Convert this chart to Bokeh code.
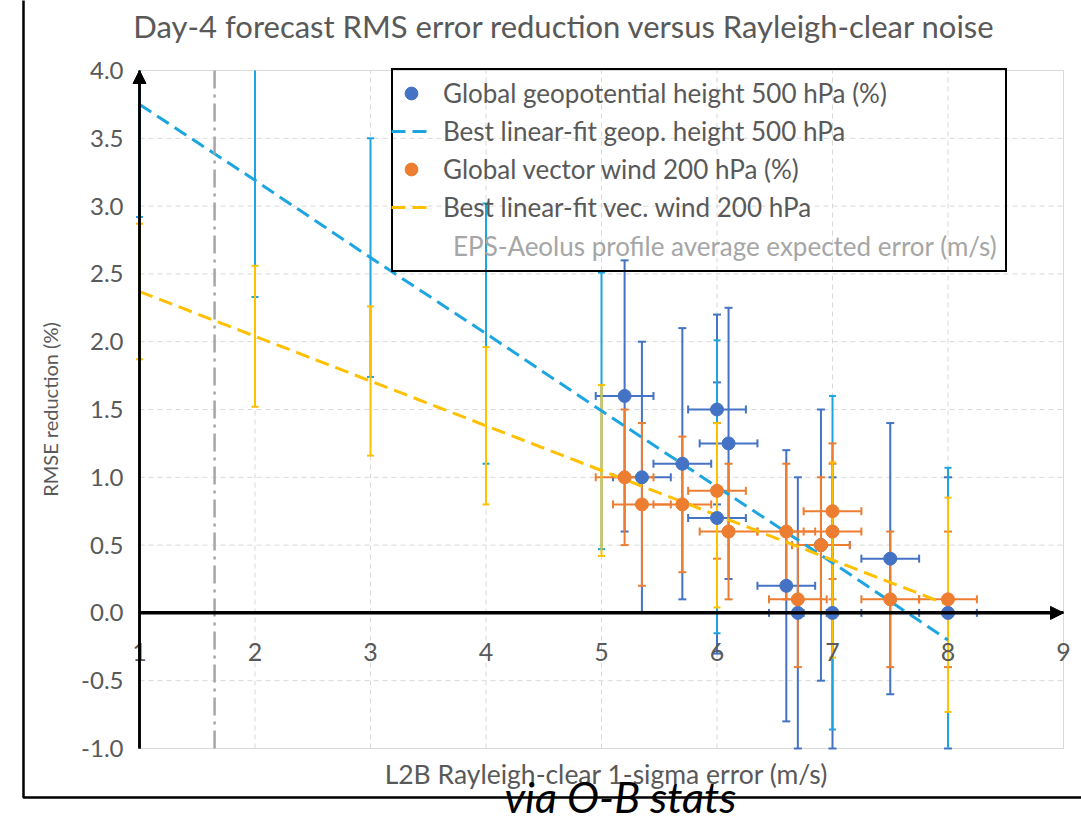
import numpy as np
from bokeh.plotting import figure
from bokeh.models import (ColumnDataSource, Range1d, FixedTicker, NumeralTickFormatter,
                          Arrow, NormalHead, Label, Legend, LegendItem, BoxAnnotation)
from bokeh.embed import file_html
from bokeh.resources import INLINE

# ---- data -------------------------------------------------------------
# Global geopotential height 500 hPa (%) experiments
geo_x = [5.2, 5.35, 5.7, 6.0, 6.0, 6.1, 6.6, 6.7, 6.9, 7.0, 7.5, 8.0]
geo_y = [1.6, 1.0, 1.1, 1.5, 0.7, 1.25, 0.2, 0.0, 0.5, 0.0, 0.4, 0.0]
geo_yerr = [1.0, 1.0, 1.0, 0.7, 1.0, 1.0, 1.0, 1.0, 1.0, 1.0, 1.0, 1.0]
geo_xerr = [0.25] * 12

# Global vector wind 200 hPa (%) experiments
wind_x = [5.2, 5.35, 5.7, 6.0, 6.1, 6.6, 6.7, 6.9, 7.0, 7.0, 7.5, 8.0]
wind_y = [1.0, 0.8, 0.8, 0.9, 0.6, 0.6, 0.1, 0.5, 0.75, 0.6, 0.1, 0.1]
wind_yerr = [0.5, 0.6, 0.5, 0.5, 0.5, 0.5, 0.5, 0.5, 0.5, 0.5, 0.5, 0.5]
wind_xerr = [0.25] * 12

# Best linear fits with their uncertainty bands
fit_x = [1, 2, 3, 4, 5, 6, 7, 8]
geo_fit_y = [3.75, 3.19, 2.62, 2.06, 1.49, 0.93, 0.37, -0.20]
geo_fit_err = [0.83, 0.86, 0.88, 0.96, 1.02, 1.08, 1.23, 1.27]
wind_fit_y = [2.37, 2.04, 1.71, 1.38, 1.05, 0.72, 0.39, 0.06]
wind_fit_err = [0.50, 0.52, 0.55, 0.58, 0.63, 0.68, 0.72, 0.79]

# EPS-Aeolus profile average expected error (m/s)
eps_error = 1.65

x_ticks = [1, 2, 3, 4, 5, 6, 7, 8, 9]
y_ticks = [-1.0, -0.5, 0.0, 0.5, 1.0, 1.5, 2.0, 2.5, 3.0, 3.5, 4.0]
x_lo, x_hi = 1, 9
y_lo, y_hi = -1.0, 4.0

# ---- page geometry (canvas pixels) ---------------------------------------
W, H = 1081, 822
AREA_L, AREA_R, AREA_T, AREA_B = 139, 1063, 70, 748   # plot area inside the canvas
SX = (AREA_R - AREA_L) / (x_hi - x_lo)
SY = (AREA_B - AREA_T) / (y_hi - y_lo)

# ---- styling ----------------------------------------------------------
FONT = "Lato"
GREY_TXT = "#595959"
DARK_BLUE = "#4472C4"
ORANGE = "#ED7D31"
LIGHT_BLUE = "#1DA5E0"
YELLOW = "#FFC000"
GRID = "#D9D9D9"
FIT_DASH = "14 7"

# the frame covers the whole canvas; the plot area is a sub-region of it
p = figure(width=W, height=H, output_backend="svg", toolbar_location=None,
           x_range=Range1d(x_lo - AREA_L / SX, x_hi + (W - AREA_R) / SX),
           y_range=Range1d(y_lo - (H - AREA_B) / SY, y_hi + AREA_T / SY),
           min_border=0, background_fill_color="white",
           border_fill_color="white", outline_line_color=None)
p.xgrid.visible = False
p.ygrid.visible = False

# grid lines and plot-area border
p.segment(x0=x_ticks, y0=[y_lo] * len(x_ticks), x1=x_ticks, y1=[y_hi] * len(x_ticks),
          line_color=GRID, line_width=1, line_dash="5 4")
p.segment(x0=[x_lo] * len(y_ticks), y0=y_ticks, x1=[x_hi] * len(y_ticks), y1=y_ticks,
          line_color=GRID, line_width=1, line_dash="5 4")
p.quad(left=[x_lo], right=[x_hi], bottom=[y_lo], top=[y_hi],
       fill_alpha=0, line_color=GRID, line_width=1)

# axes crossing at the origin of the plot area
xa = p.xaxis[0]
xa.fixed_location = 0
xa.bounds = (x_lo, x_hi)
xa.ticker = FixedTicker(ticks=x_ticks)
xa.axis_line_color = "black"
xa.axis_line_width = 3
xa.major_tick_line_color = None
xa.minor_tick_line_color = None
xa.major_label_standoff = 24
xa.major_label_text_font = FONT
xa.major_label_text_font_size = "25px"
xa.major_label_text_color = GREY_TXT

ya = p.yaxis[0]
ya.fixed_location = x_lo
ya.bounds = (y_lo, y_hi)
ya.ticker = FixedTicker(ticks=y_ticks)
ya.formatter = NumeralTickFormatter(format="0.0")
ya.axis_line_color = "black"
ya.axis_line_width = 2.5
ya.major_tick_line_color = None
ya.minor_tick_line_color = None
ya.major_label_standoff = 10
ya.major_label_text_font = FONT
ya.major_label_text_font_size = "24px"
ya.major_label_text_color = GREY_TXT
ya.axis_label = "RMSE reduction (%)"
ya.axis_label_text_font = FONT
ya.axis_label_text_font_size = "20px"
ya.axis_label_text_font_style = "normal"
ya.axis_label_text_color = GREY_TXT
ya.axis_label_standoff = 16


def _caps(keep, **cols):
    return ColumnDataSource({k: np.asarray(v)[keep] for k, v in cols.items()})


def vertical_bars(xs, ys, err, color, width=2, cap=8):
    xs = np.asarray(xs, float)
    ys = np.asarray(ys, float)
    err = np.asarray(err, float)
    lo, hi = ys - err, ys + err
    # bars are cut at the plot-area limits; caps only where the bar ends inside
    src = ColumnDataSource(dict(x=xs, lo=np.clip(lo, y_lo, y_hi), hi=np.clip(hi, y_lo, y_hi)))
    p.segment(x0="x", y0="lo", x1="x", y1="hi", source=src,
              line_color=color, line_width=width)
    for end, keep in ((lo, lo >= y_lo), (hi, hi <= y_hi)):
        p.scatter(x="x", y="y", marker="dash", size=cap, source=_caps(keep, x=xs, y=end),
                  line_color=color, line_width=width)


def horizontal_bars(xs, ys, err, color, width=2, cap=8):
    xs = np.asarray(xs, float)
    ys = np.asarray(ys, float)
    err = np.asarray(err, float)
    lo, hi = xs - err, xs + err
    src = ColumnDataSource(dict(y=ys, lo=np.clip(lo, x_lo, x_hi), hi=np.clip(hi, x_lo, x_hi)))
    p.segment(x0="lo", y0="y", x1="hi", y1="y", source=src,
              line_color=color, line_width=width)
    for end, keep in ((lo, lo >= x_lo), (hi, hi <= x_hi)):
        p.scatter(x="x", y="y", marker="dash", angle=np.pi / 2, size=cap,
                  source=_caps(keep, x=end, y=ys), line_color=color, line_width=width)


# error bars, back to front
vertical_bars(geo_x, geo_y, geo_yerr, DARK_BLUE)
horizontal_bars(geo_x, geo_y, geo_xerr, DARK_BLUE)
vertical_bars(fit_x, geo_fit_y, geo_fit_err, LIGHT_BLUE, cap=7)
vertical_bars(wind_x, wind_y, wind_yerr, ORANGE)
horizontal_bars(wind_x, wind_y, wind_xerr, ORANGE)
vertical_bars(fit_x, wind_fit_y, wind_fit_err, YELLOW, cap=7)

# best linear fits
geo_fit_r = p.line(fit_x, geo_fit_y, line_color=LIGHT_BLUE, line_width=3, line_dash=FIT_DASH)
wind_fit_r = p.line(fit_x, wind_fit_y, line_color=YELLOW, line_width=3, line_dash=FIT_DASH)

# data points
geo_r = p.scatter(geo_x, geo_y, size=13, fill_color=DARK_BLUE, line_color=DARK_BLUE)
wind_r = p.scatter(wind_x, wind_y, size=13, fill_color=ORANGE, line_color=ORANGE)

blank_r = p.line(x=[], y=[], line_alpha=0)

# EPS-Aeolus expected error marker, limited to the plot area
p.segment(x0=[eps_error], y0=[y_lo], x1=[eps_error], y1=[y_hi],
          line_color="#A6A6A6", line_width=2.5, line_dash="18 6 3 6")

# axis arrows
for xs, ys, xe, ye, lw in ((x_lo, 0, x_hi, 0, 3), (x_lo, y_lo, x_lo, y_hi, 2.5)):
    p.add_layout(Arrow(end=NormalHead(size=13, fill_color="black", line_color="black"),
                       x_start=xs, y_start=ys, x_end=xe, y_end=ye,
                       line_color="black", line_width=lw))

# legend: framed box with the grey EPS entry, series entries laid over it
legend_style = dict(label_text_font=FONT, label_text_font_size="26px",
                    label_height=32, glyph_height=32, glyph_width=40,
                    label_standoff=12, spacing=6, padding=8, margin=0,
                    background_fill_alpha=0)
box_legend = Legend(items=[LegendItem(label=" ", renderers=[blank_r]) for _ in range(4)] +
                    [LegendItem(label="EPS-Aeolus profile average expected error (m/s)",
                                renderers=[blank_r])],
                    location=(391, H - 272), label_text_color="#A6A6A6",
                    border_line_color="black", border_line_alpha=1.0,
                    border_line_width=2, **legend_style)
series_legend = Legend(items=[
    LegendItem(label="Global geopotential height 500 hPa (%)", renderers=[geo_r]),
    LegendItem(label="Best linear-fit geop. height 500 hPa", renderers=[geo_fit_r]),
    LegendItem(label="Global vector wind 200 hPa (%)", renderers=[wind_r]),
    LegendItem(label="Best linear-fit vec. wind 200 hPa", renderers=[wind_fit_r]),
    LegendItem(label=" ", renderers=[blank_r]),
], location=(391, H - 261), label_text_color=GREY_TXT, border_line_color=None,
    **legend_style)
p.add_layout(box_legend, "center")
p.add_layout(series_legend, "center")

# outer chart border (left and bottom edges)
p.add_layout(BoxAnnotation(left=23, right=W + 50, bottom=H - 797, top=H + 50,
                           left_units="screen", right_units="screen",
                           bottom_units="screen", top_units="screen",
                           fill_alpha=0, line_color="black", line_alpha=1.0,
                           line_width=2.5))

# title and x axis title
p.add_layout(Label(x=564, y=H - 25, x_units="screen", y_units="screen",
                   text="Day-4 forecast RMS error reduction versus Rayleigh-clear noise",
                   text_align="center", text_baseline="middle", text_font=FONT,
                   text_font_size="31px", text_color=GREY_TXT))
p.add_layout(Label(x=606, y=H - 773, x_units="screen", y_units="screen",
                   text="L2B Rayleigh-clear 1-sigma error (m/s)",
                   text_align="center", text_baseline="middle", text_font=FONT,
                   text_font_size="26.5px", text_color=GREY_TXT))
p.add_layout(Label(x=620, y=H - 796, x_units="screen", y_units="screen",
                   text="via O-B stats", text_align="center", text_baseline="middle",
                   text_font=FONT, text_font_style="italic", text_font_size="43px",
                   text_color="black"))

open("out.html", "w").write(file_html(p, INLINE))
